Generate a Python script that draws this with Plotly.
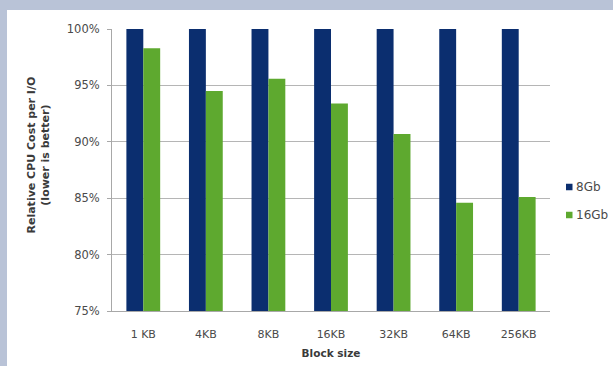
import plotly.graph_objects as go

categories = ["1 KB", "4KB", "8KB", "16KB", "32KB", "64KB", "256KB"]
series_8gb = [100, 100, 100, 100, 100, 100, 100]
series_16gb = [98.3, 94.5, 95.6, 93.4, 90.7, 84.6, 85.1]
series_names = ["8Gb", "16Gb"]
y_ticks = [75, 80, 85, 90, 95, 100]

NAVY = "#0b2e6f"
GREEN = "#5ea92f"
BG = "#b9c3d7"
TXT = "#4a4a4a"
TITLE = "#3a3a3a"
FONT = "DejaVu Sans, Verdana, sans-serif"

fig = go.Figure()
for name, vals, col in [(series_names[0], series_8gb, NAVY), (series_names[1], series_16gb, GREEN)]:
    fig.add_trace(go.Bar(name=name, x=categories, y=vals, marker_color=col,
                         marker_line_width=0, showlegend=False))

W, H = 613, 366
ml, mr, mt, mb = 112, 63, 29, 55
pw, ph = W - ml - mr, H - mt - mb

def px_to_paper_x(px):
    return (px - ml) / pw

def px_to_paper_y(py):
    return (H - mb - py) / ph

shapes = [
    dict(type="rect", xref="paper", yref="paper", layer="below",
         x0=px_to_paper_x(-5), x1=px_to_paper_x(W + 5),
         y0=px_to_paper_y(10), y1=px_to_paper_y(-5),
         fillcolor=BG, line_width=0),
    dict(type="rect", xref="paper", yref="paper", layer="below",
         x0=px_to_paper_x(-5), x1=px_to_paper_x(7),
         y0=px_to_paper_y(H + 5), y1=px_to_paper_y(-5),
         fillcolor=BG, line_width=0),
]

annotations = []
# Legend (drawn manually for compact spacing)
legend_rows = [(series_names[0], NAVY, 187), (series_names[1], GREEN, 215)]
for name, col, ypx in legend_rows:
    shapes.append(dict(type="rect", xref="paper", yref="paper",
                       x0=px_to_paper_x(566), x1=px_to_paper_x(572.5),
                       y0=px_to_paper_y(ypx + 3.25), y1=px_to_paper_y(ypx - 3.25),
                       fillcolor=col, line_width=0))
    annotations.append(dict(text=name, xref="paper", yref="paper",
                            x=px_to_paper_x(574), y=px_to_paper_y(ypx),
                            xanchor="left", yanchor="middle", showarrow=False,
                            font=dict(family=FONT, size=12, color=TXT)))

# Y-axis title
annotations.append(dict(text="<b>Relative CPU Cost per I/O<br>(lower is better)</b>",
                        xref="paper", yref="paper",
                        x=px_to_paper_x(37.5), y=px_to_paper_y(155),
                        xanchor="center", yanchor="middle", textangle=-90,
                        showarrow=False, align="center",
                        font=dict(family=FONT, size=11, color=TITLE)))

fig.update_layout(
    width=W, height=H,
    margin=dict(l=ml, r=mr, t=mt, b=mb, pad=0, autoexpand=False),
    paper_bgcolor="white", plot_bgcolor="white",
    barmode="group", bargap=0.46, bargroupgap=0,
    font=dict(family=FONT, size=11, color=TXT),
    shapes=shapes, annotations=annotations, showlegend=False,
    xaxis=dict(showgrid=False, showline=True, linecolor="#a8a8a8", linewidth=1,
               ticks="", ticklabelstandoff=13, tickfont=dict(family=FONT, size=11, color=TXT),
               title=dict(text="<b>Block size</b>", font=dict(family=FONT, size=10.5, color=TITLE), standoff=9)),
    yaxis=dict(range=[75, 100], tickvals=y_ticks, ticktext=[f"{v}%" for v in y_ticks],
               showgrid=True, gridcolor="#b5b5b5", gridwidth=1,
               showline=True, linecolor="#a8a8a8", linewidth=1,
               ticks="outside", ticklen=4, tickcolor="#a8a8a8", ticklabelstandoff=5,
               tickfont=dict(family=FONT, size=11.5, color=TXT)),
)

fig.write_html("out.html")
